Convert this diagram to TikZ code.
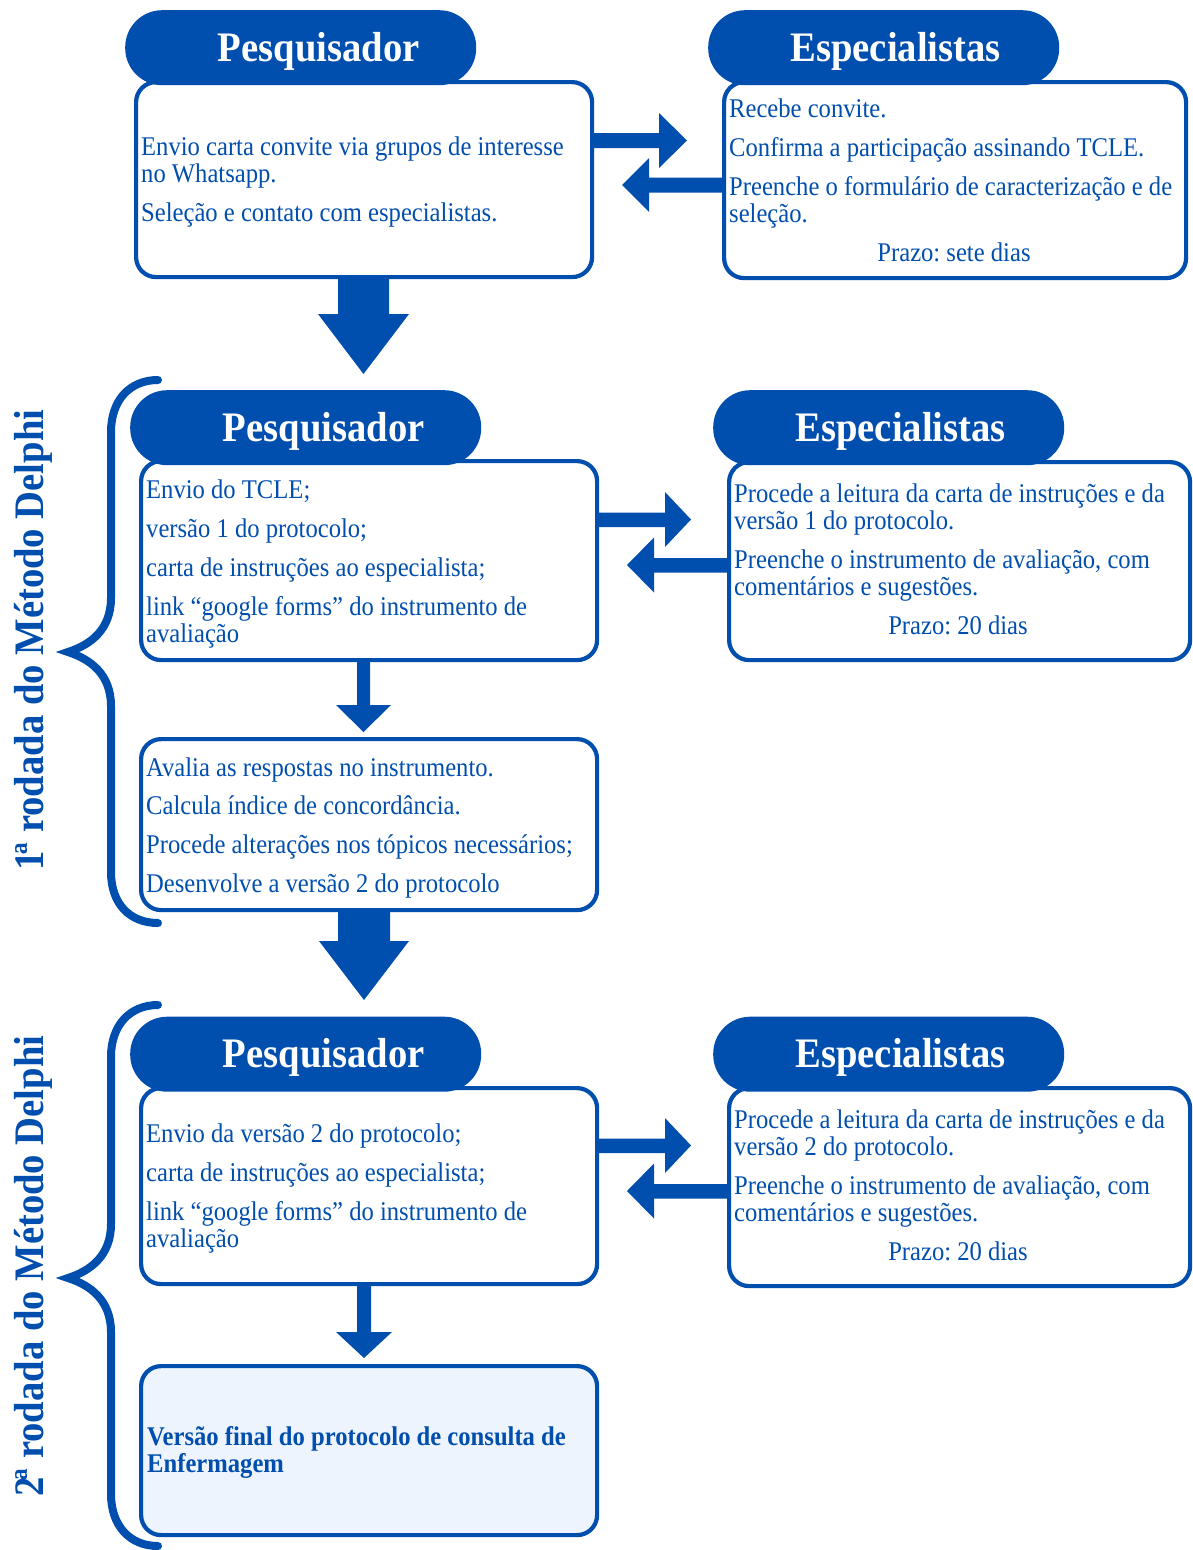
\documentclass[tikz,border=0pt]{standalone}
\usepackage{fontspec}
\setmainfont{Liberation Serif}[FakeStretch=0.912]
\newfontfamily\hdfont{Liberation Serif}[FakeStretch=0.92]
\usetikzlibrary{calc}
\definecolor{dblue}{RGB}{0,78,174}
\definecolor{lfill}{RGB}{237,244,254}
\lineskiplimit=-100pt
\lineskip=0pt
\begin{document}
\frenchspacing
\begin{tikzpicture}[x=1pt,y=-1pt,
  box/.style={draw=dblue, line width=4.2pt, rounded corners=20pt, fill=white, inner sep=0pt, anchor=north west},
  pill/.style={fill=dblue, rounded corners=37pt, minimum width=351pt, minimum height=75pt, inner sep=0pt,
     anchor=north west, text=white, font=\hdfont\bfseries\fontsize{42}{44}\selectfont, text height=27.5pt, text depth=0pt},
  txt/.style={text=dblue, font=\fontsize{27}{27}\selectfont, align=left, inner sep=0pt, anchor=north west},
  prazo/.style={text=dblue, font=\fontsize{27}{27}\selectfont, inner sep=0pt, anchor=base},
  side/.style={text=dblue, font=\hdfont\bfseries\fontsize{42}{44}\selectfont, rotate=90, anchor=base, inner sep=0pt},
  blk/.style={fill=dblue},
  brace/.style={draw=dblue, line width=8pt, line cap=round}]
\useasboundingbox (0,0) rectangle (1193,1550);
\fill[white] (0,0) rectangle (1193,1550);

% ---------- boxes ----------
\node[box, minimum width=456pt, minimum height=195pt] (A1) at (134,80) {};
\node[box, minimum width=462pt, minimum height=196pt] (B1) at (722,80) {};
\node[box, minimum width=456pt, minimum height=199pt] (A2) at (139,459) {};
\node[box, minimum width=461pt, minimum height=198pt] (B2) at (727,460) {};
\node[box, minimum width=456pt, minimum height=171pt] (A3) at (139,737) {};
\node[box, minimum width=456pt, minimum height=196pt] (A4) at (139,1086) {};
\node[box, minimum width=461pt, minimum height=198pt] (B4) at (727,1086) {};
\node[box, minimum width=456pt, minimum height=169pt, fill=lfill] (A5) at (139,1364) {};

% ---------- header pills ----------
\node[pill] (P1) at (125,10) {\hspace*{36pt}Pesquisador};
\node[pill] (E1) at (708,10) {\hspace*{24pt}Especialistas};
\node[pill] (P2) at (130,390) {\hspace*{36pt}Pesquisador};
\node[pill] (E2) at (713,390) {\hspace*{24pt}Especialistas};
\node[pill] (P3) at (130,1016.5) {\hspace*{36pt}Pesquisador};
\node[pill] (E3) at (713,1016.5) {\hspace*{24pt}Especialistas};

% ---------- texts ----------
\node[txt] (tA1) at (141,131) {\rule{0pt}{24pt}Envio carta convite via grupos de interesse\\no Whatsapp.\\[12pt]Seleção e contato com especialistas.};
\node[txt] (tB1) at (729,93) {\rule{0pt}{24pt}Recebe convite.\\[12pt]Confirma a participação assinando TCLE.\\[12pt]Preenche o formulário de caracterização e de\\seleção.};
\node[prazo] (zB1) at (954,261) {Prazo: sete dias};

\node[txt] (tA2) at (146,474) {\rule{0pt}{24pt}Envio do TCLE;\\[12pt]versão 1 do protocolo;\\[12pt]carta de instruções ao especialista;\\[12pt]link “google forms” do instrumento de\\avaliação};
\node[txt] (tB2) at (734,478) {\rule{0pt}{24pt}Procede a leitura da carta de instruções e da\\versão 1 do protocolo.\\[12pt]Preenche o instrumento de avaliação, com\\comentários e sugestões.};
\node[prazo] (zB2) at (958,634) {Prazo: 20 dias};

\node[txt] (tA3) at (146,752) {\rule{0pt}{24pt}Avalia as respostas no instrumento.\\[11pt]Calcula índice de concordância.\\[12pt]Procede alterações nos tópicos necessários;\\[12pt]Desenvolve a versão 2 do protocolo};

\node[txt] (tA4) at (146,1118) {\rule{0pt}{24pt}Envio da versão 2 do protocolo;\\[12pt]carta de instruções ao especialista;\\[12pt]link “google forms” do instrumento de\\avaliação};
\node[txt] (tB4) at (734,1104) {\rule{0pt}{24pt}Procede a leitura da carta de instruções e da\\versão 2 do protocolo.\\[12pt]Preenche o instrumento de avaliação, com\\comentários e sugestões.};
\node[prazo] (zB4) at (958,1260) {Prazo: 20 dias};

\node[txt, font=\bfseries\fontsize{27}{27}\selectfont] (tA5) at (147,1421) {\rule{0pt}{24pt}Versão final do protocolo de consulta de\\Enfermagem};

% ---------- side labels ----------
\node[side] (L1) at (43,640) {1\kern-3ptª rodada do Método Delphi};
\node[side] (L2) at (43,1266) {2\kern-3ptª rodada do Método Delphi};

% ---------- horizontal block arrows ----------
\fill[blk] (A1.east |- 0,133) -- (659,133) -- (659,113) -- (687,140.5) -- (659,168) -- (659,148) -- (A1.east |- 0,148) -- cycle;
\fill[blk] (B1.west |- 0,177.5) -- (649,177.5) -- (649,158) -- (622,185) -- (649,212) -- (649,192.5) -- (B1.west |- 0,192.5) -- cycle;

\fill[blk] (A2.east |- 0,512.5) -- (665,512.5) -- (665,492) -- (691,519.5) -- (665,547) -- (665,527) -- (A2.east |- 0,527) -- cycle;
\fill[blk] (B2.west |- 0,558) -- (654,558) -- (654,537.5) -- (627,565) -- (654,592.5) -- (654,572.5) -- (B2.west |- 0,572.5) -- cycle;

\fill[blk] (A4.east |- 0,1138.5) -- (665,1138.5) -- (665,1118) -- (691,1145.5) -- (665,1173) -- (665,1153) -- (A4.east |- 0,1153) -- cycle;
\fill[blk] (B4.west |- 0,1184) -- (654,1184) -- (654,1163.5) -- (627,1191) -- (654,1218.5) -- (654,1198.5) -- (B4.west |- 0,1198.5) -- cycle;

% ---------- vertical block arrows ----------
\fill[blk] (A1.south -| 338,0) -- (338,314) -- (318,314) -- (363.5,374) -- (409,314) -- (389,314) -- (A1.south -| 389,0) -- cycle;
\fill[blk] (A2.south -| 357,0) -- (357,705) -- (336,705) -- (363.5,732) -- (391,705) -- (370,705) -- (A2.south -| 370,0) -- cycle;
\fill[blk] (A3.south -| 338,0) -- (338,941) -- (319,941) -- (364,1000) -- (409,941) -- (390,941) -- (A3.south -| 390,0) -- cycle;
\fill[blk] (A4.south -| 357,0) -- (357,1332) -- (336,1332) -- (364,1358) -- (392,1332) -- (371,1332) -- (A4.south -| 371,0) -- cycle;

% ---------- braces ----------
\draw[brace] (158,380) .. controls (130,380) and (111,400) .. (111,432) -- (111,598)
  .. controls (111,630) and (90,645) .. (68,652) .. controls (90,659) and (111,674) .. (111,706)
  -- (111,872) .. controls (111,904) and (130,923) .. (158,923);
\draw[brace] (158,1005) .. controls (130,1005) and (111,1025) .. (111,1057) -- (111,1224)
  .. controls (111,1256) and (90,1271) .. (68,1278) .. controls (90,1285) and (111,1300) .. (111,1332)
  -- (111,1494) .. controls (111,1526) and (130,1546) .. (158,1546);
\end{tikzpicture}
\end{document}
